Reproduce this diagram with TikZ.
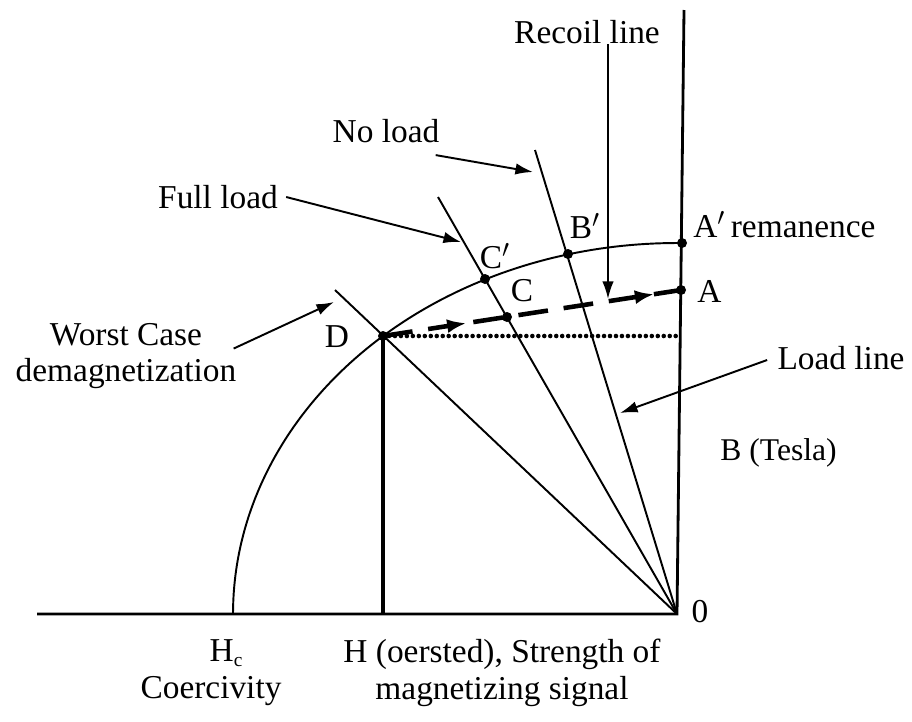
\documentclass[tikz,border=0pt]{standalone}
\usepackage{fontspec}
\setmainfont{Liberation Serif}
\usetikzlibrary{arrows.meta,decorations.markings,calc}
\begin{document}
\begin{tikzpicture}[x=0.02cm,y=-0.02cm,
  lbl/.style={font=\fontsize{19}{21}\selectfont, inner sep=0pt},
  thinline/.style={line width=1.1pt},
  arr/.style={line width=1.1pt,-{Latex[length=10pt,width=6.5pt]}},
  dotn/.style={circle, fill=black, inner sep=0pt, minimum size=0.2cm}]
\useasboundingbox[fill=white] (0,0) rectangle (912,721);

% key coordinates
\coordinate (O) at (677,614);
\coordinate (Vtop) at (684,10);
\coordinate (Hleft) at (37,614);
\coordinate (W) at (335,290);
\coordinate (F) at (438,197);
\coordinate (N) at (535,150);

% points
\node[dotn] (D) at (383,336) {};
\node[dotn] (Cp) at (485,279) {};
\node[dotn] (C) at (507,317) {};
\node[dotn] (Bp) at (568,254) {};
\node[dotn] (Ap) at (682,243) {};
\node[dotn] (A) at (681,290) {};
\coordinate (rc) at (608,299);

% axes
\draw[line width=1.6pt] (Hleft) -- (O) -- (Vtop);

% load lines
\draw[thinline] (O) -- (W);
\draw[thinline] (O) -- (F);
\draw[thinline] (O) -- (N);

% demagnetization curve
\draw[thinline] plot[domain=0:90,samples=90] ({677-444*cos(\x)},{614-371*sin(\x)}) -- (Ap.center);

% dotted horizontal and thick vertical from D
\draw[line width=2.6pt, line cap=round, dash pattern=on 0pt off 3.4pt] (D.center) -- (D.center -| A.center);
\draw[line width=2.8pt] (D.center) -- (D.center |- O);

% recoil (dashed) line
\draw[line width=2.6pt, dash pattern=on 17pt off 9pt,
  postaction={decorate, decoration={markings,
    mark=at position 0.28 with {\arrow{Latex[length=11pt,width=8pt]}},
    mark=at position 0.91 with {\arrow{Latex[length=11pt,width=8pt]}}}}]
  (D.center) -- (A.center);

% labels
\node[lbl] (recoil) at (587,32) {Recoil line};
\node[lbl] (noload) at (386,131) {No load};
\node[lbl] (fullload) at (218,197) {Full load};
\node[lbl, align=center] (worst) at (126,356) {Worst Case\\demagnetization};
\node[lbl] (Dl) at (337,337) {D};
\node[lbl] (Cpl) at (495,256) {C$'$};
\node[lbl] (Cl) at (522,291) {C};
\node[lbl] (Bpl) at (585,226) {B$'$};
\node[lbl, anchor=base west] (Apl) at (693,237) {A$'$\,remanence};
\node[lbl, anchor=base west] (Al) at (697,302) {A};
\node[lbl] (loadl) at (841,358) {Load line};
\node[lbl, anchor=north west, font=\fontsize{18}{20}\selectfont] (tesla) at (720,438) {B (Tesla)};
\node[lbl] (zero) at (700,612) {0};
\node[lbl] (hc) at (226,653) {H\raisebox{-3pt}{\fontsize{11}{11}\selectfont c}};
\node[lbl] (coer) at (211,691) {Coercivity};
\node[lbl, align=center] (hlab) at (502,673) {H (oersted), Strength of\\magnetizing signal};

% label arrows
\coordinate (nlt) at (533,172);
\coordinate (flt) at (461,242);
\coordinate (wct) at (334,302);
\coordinate (llt) at (620,413);
\draw[arr] (recoil.south -| rc) -- (rc);
\draw[arr] ($(noload.south east)+(-4,12)$) -- (nlt);
\draw[arr] ($(fullload.east)+(8,0)$) -- (flt);
\draw[arr] ($(worst.north east)+(-3,26)$) -- (wct);
\draw[arr] ($(loadl.west)+(-10,2)$) -- (llt);
\end{tikzpicture}
\end{document}
